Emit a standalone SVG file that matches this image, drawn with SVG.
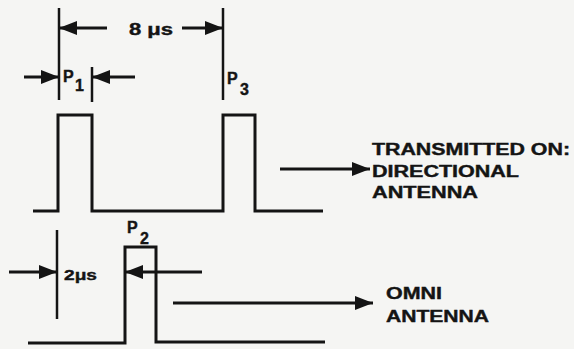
<svg xmlns="http://www.w3.org/2000/svg" width="574" height="349" viewBox="0 0 574 349">
<style>
.ln{stroke:#141414;stroke-width:3;fill:none}
.dim{stroke:#141414;stroke-width:2.5;fill:none}
.t{font-family:"Liberation Sans",Arial,sans-serif;font-weight:bold;fill:#141414;stroke:#141414;stroke-width:0.4}
</style>
<defs>
<marker id="ah" viewBox="0 0 18 14" refX="18" refY="7" markerWidth="18" markerHeight="14" markerUnits="userSpaceOnUse" orient="auto">
<path d="M0,0 L18,7 L0,14 z" fill="#141414"/>
</marker>
</defs>
<rect width="574" height="349" fill="#f5f5f3"/>
<g id="waveform-directional">
<polyline class="ln" points="33,211 58,211 58,115 92,115 92,211 223,211 223,115 255,115 255,211 323,211"/>
</g>
<g id="waveform-omni">
<polyline class="ln" points="28,343 125,343 125,247 156,247 156,342 325,342"/>
</g>
<g id="dimension-lines">
<line class="dim" x1="59" y1="8" x2="59" y2="100"/>
<line class="dim" x1="92" y1="67" x2="92" y2="102"/>
<line class="dim" x1="223" y1="8" x2="223" y2="100"/>
<line class="dim" x1="57" y1="230" x2="57" y2="319"/>
</g>
<g id="connectors">
<line class="ln" x1="107" y1="28" x2="59" y2="28" marker-end="url(#ah)"/>
<line class="ln" x1="182" y1="28" x2="223" y2="28" marker-end="url(#ah)"/>
<line class="ln" x1="24" y1="77" x2="59" y2="77" marker-end="url(#ah)"/>
<line class="ln" x1="135" y1="77" x2="92" y2="77" marker-end="url(#ah)"/>
<line class="ln" x1="9" y1="272" x2="57" y2="272" marker-end="url(#ah)"/>
<line class="ln" x1="202" y1="272" x2="125" y2="272" marker-end="url(#ah)"/>
<line class="ln" x1="280" y1="169" x2="370" y2="169" marker-end="url(#ah)"/>
<line class="ln" x1="173" y1="303" x2="373" y2="303" marker-end="url(#ah)"/>
</g>
<g id="label-8us"><text class="t" x="129" y="35" font-size="16" textLength="44" lengthAdjust="spacingAndGlyphs">8 μs</text></g>
<g id="label-p1"><text class="t" x="63" y="82" font-size="16">P</text><text class="t" x="75" y="91" font-size="16">1</text></g>
<g id="label-p3"><text class="t" x="227" y="84" font-size="16">P</text><text class="t" x="240" y="95" font-size="16">3</text></g>
<g id="label-p2"><text class="t" x="127" y="233" font-size="16">P</text><text class="t" x="140" y="244" font-size="16">2</text></g>
<g id="label-2us"><text class="t" x="64" y="280" font-size="15" textLength="33" lengthAdjust="spacingAndGlyphs">2μs</text></g>
<g id="label-directional">
<text class="t" x="372" y="155" font-size="16" textLength="198" lengthAdjust="spacingAndGlyphs">TRANSMITTED ON:</text>
<text class="t" x="372" y="177" font-size="16" textLength="147" lengthAdjust="spacingAndGlyphs">DIRECTIONAL</text>
<text class="t" x="372" y="198" font-size="16" textLength="106" lengthAdjust="spacingAndGlyphs">ANTENNA</text>
</g>
<g id="label-omni">
<text class="t" x="386" y="299" font-size="16" textLength="56" lengthAdjust="spacingAndGlyphs">OMNI</text>
<text class="t" x="386" y="322" font-size="16" textLength="103" lengthAdjust="spacingAndGlyphs">ANTENNA</text>
</g>
</svg>
